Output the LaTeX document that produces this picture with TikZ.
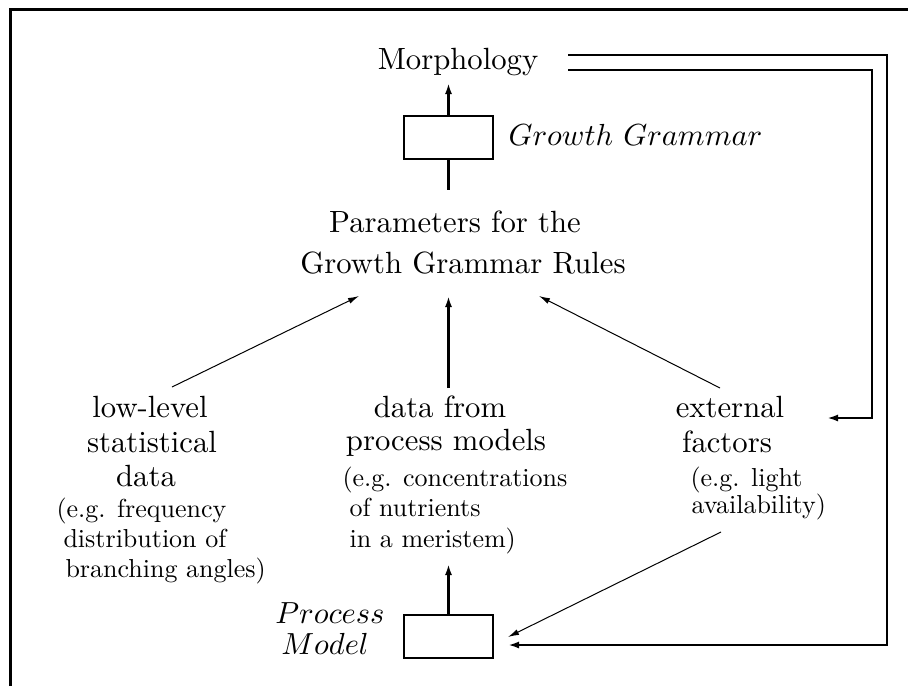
\documentclass[tikz,border=0pt]{standalone}
\usetikzlibrary{arrows.meta}
\begin{document}
\begin{tikzpicture}[x=1pt,y=-1pt,
  big/.style={font=\fontsize{10}{12}\selectfont, scale=3.07, transform shape, inner sep=0pt, anchor=base},
  sml/.style={font=\fontsize{10}{12}\selectfont, scale=2.6, transform shape, inner sep=0pt, anchor=base west},
  emph/.style={font=\fontsize{10}{12}\selectfont, scale=3.05, transform shape, inner sep=0pt},
  blockbox/.style={draw, line width=2.5pt, minimum width=89pt, minimum height=43pt, inner sep=0pt},
  frameline/.style={line width=3pt},
  thk/.style={line width=2.4pt, -{Latex[length=11pt,width=7pt]}},
  thkplain/.style={line width=2.4pt},
  thn/.style={line width=1pt, -{Latex[length=11pt,width=6pt]}},
]
\useasboundingbox (0,0) rectangle (908,686);
% frame (cropped)
\draw[frameline] (10,686) -- (10,9.5) -- (908,9.5);

% top part
\node[big] (morph) at (458,69) {Morphology};
\node[blockbox] (gg) at (448.5,137.5) {};
\node[emph, anchor=base west] (gglabel) at (508,145) {$Growth\ Grammar$};
\node[big] (par1) at (455,232) {Parameters for the};
\node[big] (par2) at (463,273) {Growth Grammar Rules};

\coordinate (morphtip) at (448.5,83);
\coordinate (ggtail) at (448.5,190);
\draw[thk] (gg.north) -- (morphtip);
\draw[thkplain] (gg.south) -- (ggtail);

% left block
\node[big] (ll1) at (150,417) {low-level};
\node[big] (ll2) at (152,452) {statistical};
\node[big] (ll3) at (146,486) {data};
\node[sml] (ll4) at (56,517) {(e.g. frequency};
\node[sml] (ll5) at (63,547) {distribution of};
\node[sml] (ll6) at (65,577) {branching angles)};

% middle block
\node[big] (md1) at (440,417) {data from};
\node[big] (md2) at (446,450) {process models};
\node[sml] (md3) at (342,486) {(e.g. concentrations};
\node[sml] (md4) at (349,516) {of nutrients};
\node[sml] (md5) at (349,547) {in a meristem)};

% right block
\node[big] (ex1) at (730,417) {external};
\node[big] (ex2) at (727,452) {factors};
\node[sml] (ex3) at (690,486) {(e.g. light};
\node[sml] (ex4) at (691,513) {availability)};

% process model
\node[blockbox] (pm) at (448.5,636.5) {};
\node[emph, anchor=base] (pml1) at (330,623) {$Process$};
\node[emph, anchor=base] (pml2) at (325,654) {$Model$};

% arrows into parameters
\coordinate (lfrom) at (172,387);
\coordinate (lto) at (359,296);
\coordinate (mfrom) at (448.5,388);
\coordinate (mto) at (448.5,296);
\coordinate (rfrom) at (720,388);
\coordinate (rto) at (539,296);
\draw[thn] (lfrom) -- (lto);
\draw[thk] (mfrom) -- (mto);
\draw[thn] (rfrom) -- (rto);

% process model up arrow
\coordinate (pmtip) at (448.5,564);
\draw[thk] (pm.north) -- (pmtip);

% external factors to process model
\coordinate (exfrom) at (721,532);
\coordinate (pmin1) at (508,637);
\draw[thn] (exfrom) -- (pmin1);

% feedback double lines
\coordinate (fbA) at (568,55);
\coordinate (fbB) at (568,70);
\coordinate (exin) at (827,418);
\coordinate (pmin2) at (508,645);
\draw[thk] (fbA) -- (887,55) -- (887,645) -- (pmin2);
\draw[thk] (fbB) -- (872,70) -- (872,418) -- (exin);
\end{tikzpicture}
\end{document}
